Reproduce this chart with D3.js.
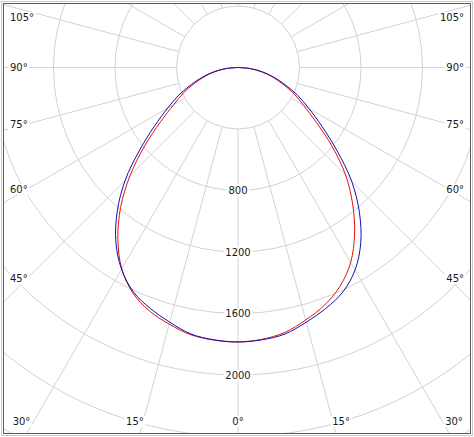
<!DOCTYPE html>
<html>
<head>
<meta charset="utf-8">
<script src="https://cdn.jsdelivr.net/npm/d3@7"></script>
<style>
  html, body { margin: 0; padding: 0; background: #fff; }
  svg { display: block; }
  text { font-family: "DejaVu Sans", Verdana, sans-serif; font-size: 10px; fill: #1a1a1a; }
</style>
</head>
<body>
<svg id="chart" width="474" height="437"></svg>
<script>
// ---- data ----
const gammaAngles = [0, 5, 10, 15, 20, 25, 30, 35, 40, 45, 50, 55, 60, 65, 70, 75, 80, 85, 90];
// intensity (cd) on the left half (negative side) and right half of each plane
const redLeft   = [1785, 1780, 1765, 1728, 1685, 1618, 1512, 1362, 1188, 992, 792, 615, 482, 392, 300, 222, 148, 74, 0];
const redRight  = [1785, 1775, 1750, 1700, 1645, 1570, 1465, 1322, 1160, 990, 800, 622, 492, 400, 305, 226, 150, 75, 0];
const blueLeft  = [1785, 1778, 1760, 1715, 1668, 1610, 1515, 1385, 1222, 1038, 835, 662, 528, 425, 322, 238, 158, 79, 0];
const blueRight = [1785, 1778, 1760, 1715, 1668, 1612, 1522, 1392, 1228, 1045, 840, 666, 532, 428, 324, 240, 160, 80, 0];
const ringValues = [400, 800, 1200, 1600, 2000, 2400, 2800, 3200];
const ringLabels = [800, 1200, 1600, 2000];
const spokeAngles = d3.range(0, 360, 15);
const leftAngleLabels  = [105, 90, 75, 60, 45];
const bottomAngleLabels = [-30, -15, 0, 15, 30];
const rightAngleLabels = [45, 60, 75, 90, 105];

// ---- layout ----
const W = 474, H = 437;
const cx = 238, cy = 67.5;
const frame = {x: 3.5, y: 3.5, w: 467, h: 430};
const r = d3.scaleLinear().domain([0, 2000]).range([0, 307.5]);
const deg = Math.PI / 180;

const svg = d3.select("#chart");
svg.append("rect").attr("width", W).attr("height", H).attr("fill", "#fff");

svg.append("clipPath").attr("id", "clip")
  .append("rect").attr("x", frame.x).attr("y", frame.y).attr("width", frame.w).attr("height", frame.h);

const g = svg.append("g").attr("clip-path", "url(#clip)");
const pg = g.append("g").attr("transform", `translate(${cx},${cy})`);

// rings
pg.selectAll("circle.ring").data(ringValues.slice(1)).join("circle")
  .attr("class", "ring")
  .attr("r", d => r(d))
  .attr("fill", "none").attr("stroke", "#d2d2d2").attr("stroke-width", 1);

// spokes (angle measured from straight down)
pg.selectAll("line.spoke").data(spokeAngles).join("line")
  .attr("x1", d => r(ringValues[0]) * Math.sin(d * deg))
  .attr("y1", d => r(ringValues[0]) * Math.cos(d * deg))
  .attr("x2", d => r(4000) * Math.sin(d * deg))
  .attr("y2", d => r(4000) * Math.cos(d * deg))
  .attr("stroke", "#d2d2d2").attr("stroke-width", 1);

// inner circle
pg.append("circle").attr("r", r(ringValues[0]))
  .attr("fill", "#fff").attr("stroke", "#d2d2d2").attr("stroke-width", 1);

// curves
function buildSeries(left, right) {
  const pts = [];
  for (let i = gammaAngles.length - 1; i >= 0; i--) pts.push([-gammaAngles[i], left[i]]);
  for (let i = 1; i < gammaAngles.length; i++) pts.push([gammaAngles[i], right[i]]);
  return pts;
}
const radial = d3.lineRadial()
  .angle(d => Math.PI - d[0] * deg)
  .radius(d => r(d[1]))
  .curve(d3.curveCatmullRom.alpha(0.5));

pg.append("path").datum(buildSeries(redLeft, redRight))
  .attr("d", radial).attr("fill", "none").attr("stroke", "#e01010").attr("stroke-width", 1);
pg.append("path").datum(buildSeries(blueLeft, blueRight))
  .attr("d", radial).attr("fill", "none").attr("stroke", "#1010b0").attr("stroke-width", 1);

// labels with white backgrounds
const lg = svg.append("g");
function label(x, y, txt, anchor) {
  const grp = lg.append("g");
  const bg = grp.append("rect").attr("fill", "#fff");
  const t = grp.append("text").attr("x", x).attr("y", y)
    .attr("text-anchor", anchor).attr("dominant-baseline", "central").text(txt);
  const b = t.node().getBBox();
  bg.attr("x", b.x - 1.5).attr("y", b.y).attr("width", b.width + 3).attr("height", b.height);
}

// ring value labels along the 0° axis
ringLabels.forEach(v => label(cx, cy + r(v), String(v), "middle"));

// angle labels where the spokes meet the chart edge
const kSide = 0.965, kBottom = 0.92;
const leftX = 19, bottomY = 421.5, topY = 17.5, minX = 21.5, maxX = 454;
function sideY(a) {
  const dy = Math.cos(a * deg) * kSide, dx = Math.sin(a * deg);
  return Math.max(topY, cy + dy * (cx - leftX) / dx);
}
leftAngleLabels.forEach(a => label(10, sideY(a), a + "°", "start"));
rightAngleLabels.forEach(a => label(464, sideY(a), a + "°", "end"));
bottomAngleLabels.forEach(a => {
  const dy = Math.cos(a * deg) * kBottom, dx = Math.sin(a * deg);
  const x = Math.max(minX, Math.min(maxX, cx + dx * (bottomY - cy) / dy));
  label(x, bottomY, Math.abs(a) + "°", "middle");
});

// frame
svg.append("rect").attr("x", frame.x).attr("y", frame.y).attr("width", frame.w).attr("height", frame.h)
  .attr("fill", "none").attr("stroke", "#5a5a5a").attr("stroke-width", 1);
svg.append("rect").attr("x", 1.5).attr("y", 1.5).attr("width", W - 3).attr("height", H - 3)
  .attr("fill", "none").attr("stroke", "#c8c8c8").attr("stroke-width", 1);
</script>
</body>
</html>
